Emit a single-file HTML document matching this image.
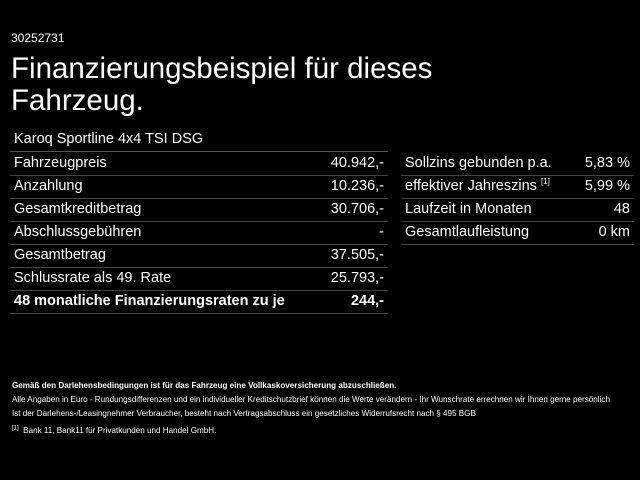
<!DOCTYPE html>
<html><head><meta charset="utf-8"><style>
body{margin:0;width:640px;height:480px;background:#000;color:#fff;font-family:"Liberation Sans",sans-serif;position:relative;overflow:hidden}
.a{position:absolute;white-space:nowrap}
.row{position:absolute;height:23px;border-bottom:1px solid #444;font-size:14.5px;line-height:23px}
.row span{position:absolute}
.row .r{right:4px}
.row .l{left:4px}
</style></head><body>
<div class="a" style="left:11px;top:31px;font-size:12px">30252731</div>
<div class="a" style="left:11px;top:53px;font-size:29.5px;line-height:32px">Finanzierungsbeispiel für dieses<br>Fahrzeug.</div>
<div class="a" style="left:14px;top:131px;font-size:14.5px">Karoq Sportline 4x4 TSI DSG</div>
<div class="row" style="left:10px;width:378px;top:129px;border-bottom-color:#555;height:22px"></div>
<div class="row" style="left:10px;width:378px;top:152px"><span class="l">Fahrzeugpreis</span><span class="r">40.942,-</span></div>
<div class="row" style="left:10px;width:378px;top:175px"><span class="l">Anzahlung</span><span class="r">10.236,-</span></div>
<div class="row" style="left:10px;width:378px;top:198px"><span class="l">Gesamtkreditbetrag</span><span class="r">30.706,-</span></div>
<div class="row" style="left:10px;width:378px;top:221px"><span class="l">Abschlussgebühren</span><span class="r">-</span></div>
<div class="row" style="left:10px;width:378px;top:244px"><span class="l">Gesamtbetrag</span><span class="r">37.505,-</span></div>
<div class="row" style="left:10px;width:378px;top:267px"><span class="l">Schlussrate als 49. Rate</span><span class="r">25.793,-</span></div>
<div class="row" style="left:10px;width:378px;top:290px;font-weight:bold"><span class="l">48 monatliche Finanzierungsraten zu je</span><span class="r">244,-</span></div>
<div class="row" style="left:401px;width:233px;top:152px"><span class="l">Sollzins gebunden p.a.</span><span class="r">5,83 %</span></div>
<div class="row" style="left:401px;width:233px;top:175px"><span class="l">effektiver Jahreszins <sup style="font-size:8px;line-height:0">[1]</sup></span><span class="r">5,99 %</span></div>
<div class="row" style="left:401px;width:233px;top:198px"><span class="l">Laufzeit in Monaten</span><span class="r">48</span></div>
<div class="row" style="left:401px;width:233px;top:221px"><span class="l">Gesamtlaufleistung</span><span class="r">0 km</span></div>
<div class="a" style="left:12px;top:379px;font-size:8.1px;line-height:14px">
<div style="font-weight:bold">Gemäß den Darlehensbedingungen ist für das Fahrzeug eine Vollkaskoversicherung abzuschließen.</div>
<div>Alle Angaben in Euro - Rundungsdifferenzen und ein individueller Kreditschutzbrief können die Werte verändern - Ihr Wunschrate errechnen wir Ihnen gerne persönlich</div>
<div>Ist der Darlehens-/Leasingnehmer Verbraucher, besteht nach Vertragsabschluss ein gesetzliches Widerrufsrecht nach § 495 BGB</div>
<div style="margin-top:3px"><sup style="font-size:6px;line-height:0">[1]</sup>&nbsp; Bank 11, Bank11 für Privatkunden und Handel GmbH.</div>
</div>
</body></html>
